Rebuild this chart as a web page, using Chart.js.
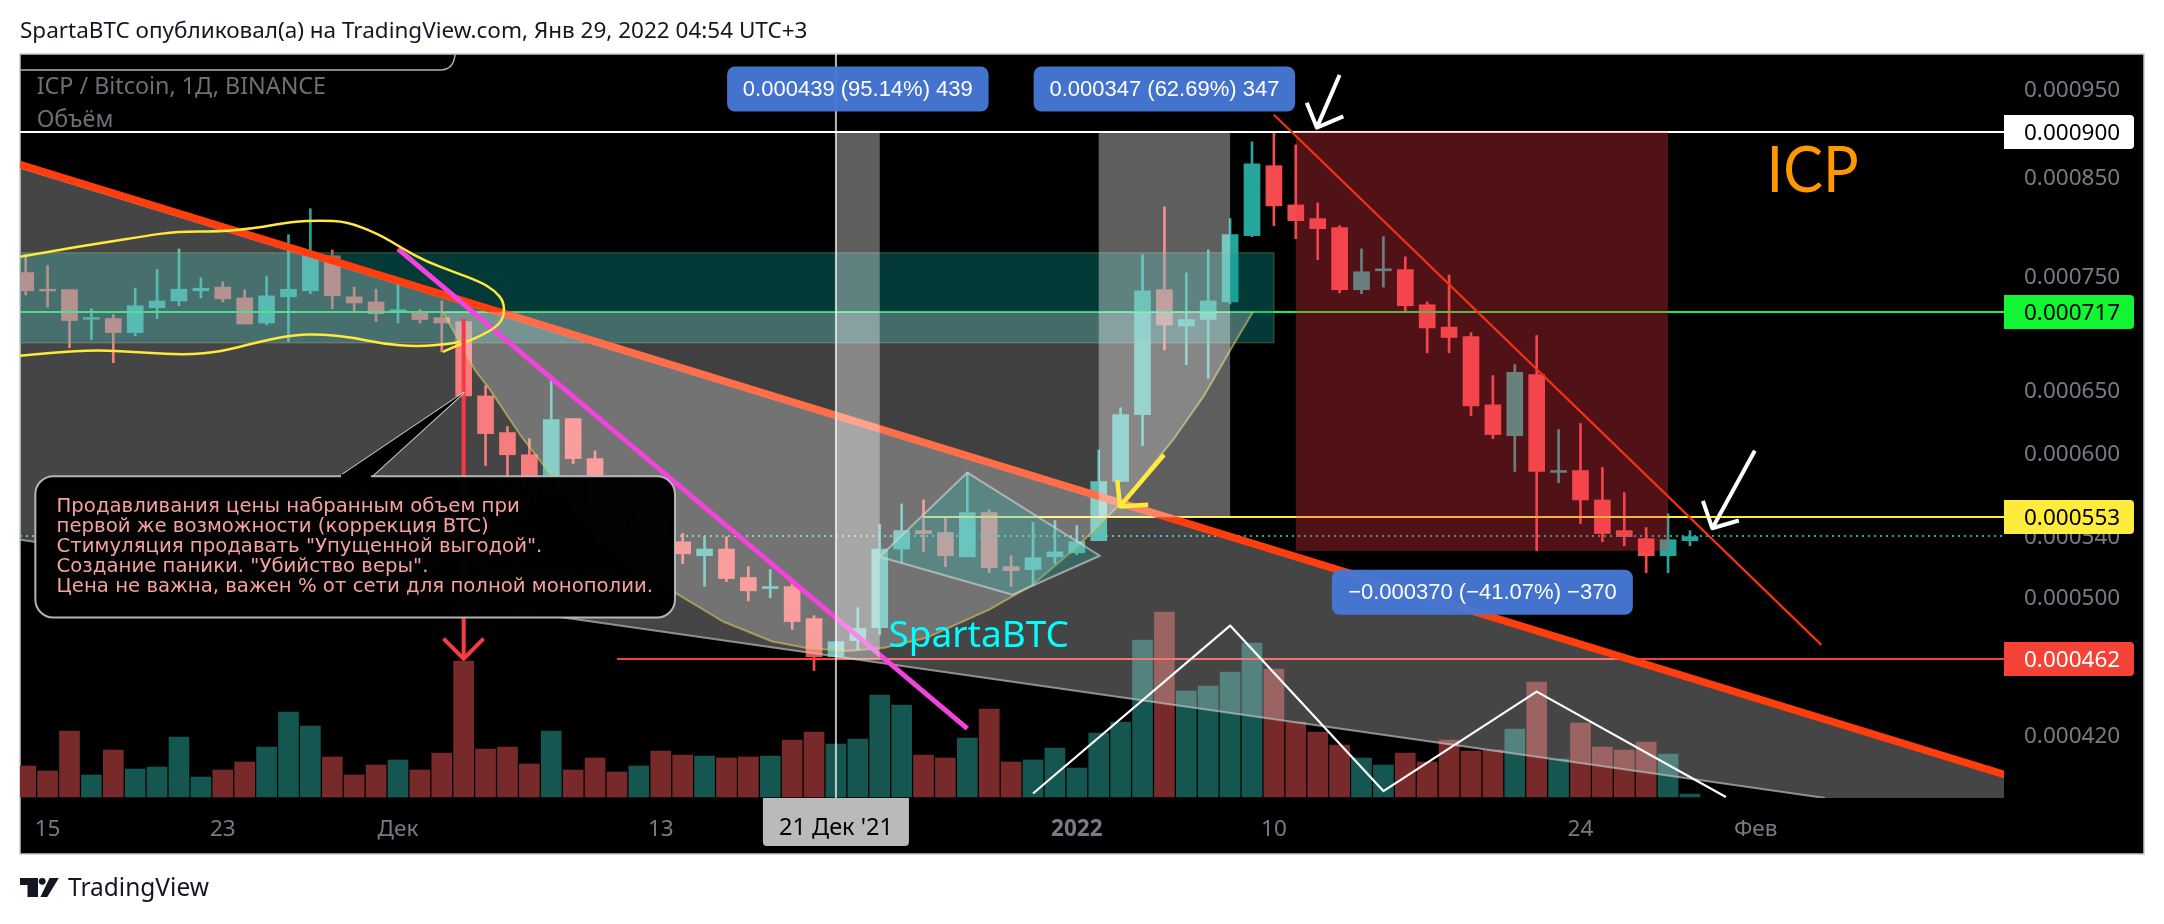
<!DOCTYPE html>
<html><head><meta charset="utf-8"><title>ICP / Bitcoin</title>
<style>html,body{margin:0;padding:0;background:#fff}canvas{display:block}</style>
<script src="https://cdn.jsdelivr.net/npm/chart.js@4/dist/chart.umd.min.js"></script>
</head><body><canvas id="c" width="2164" height="924"></canvas>
<script>
// Prices are in satoshi (0.000001 BTC). One candle per day, index 1 = 15 Nov 2021.
const candleOpen=[753.3,737.6,737.2,710.2,710.8,698.3,720.6,726.8,736.2,739.6,729.6,706.8,730.6,736.2,769.5,730.6,725.9,717.0,717.0,711.7,708.1,644.6,615.4,598.4,567.4,626.4,595.5,565.2,545.8,551.4,536.1,526.7,531.2,512.4,505.3,506.6,486.5,463.6,473.1,481.0,531.2,543.7,542.4,526.0,556.2,519.5,517.6,526.0,528.6,536.8,578.5,629.5,737.2,704.1,709.9,725.9,789.3,862.3,820.6,806.5,797.3,737.2,755.0,756.2,723.3,703.2,694.9,637.4,613.1,662.3,585.2,586.6,565.2,543.7,538.2,526.7,536.8];
const candleHigh=[771.1,760.0,737.2,719.7,714.4,738.6,756.2,776.2,748.3,744.5,737.2,750.0,790.3,816.6,775.2,739.6,737.6,742.6,718.8,726.8,710.8,653.0,620.1,610.7,657.2,626.4,601.4,566.6,556.9,558.3,541.7,539.8,539.6,519.5,517.6,509.8,488.3,472.5,493.2,548.0,562.4,565.2,553.6,585.1,558.3,526.7,549.3,550.7,547.2,602.1,635.0,770.4,818.6,753.0,775.2,806.5,888.7,899.0,885.2,822.7,799.4,776.2,788.3,768.5,725.9,751.1,698.3,661.4,670.6,695.7,617.8,622.5,588.8,570.4,545.8,555.5,543.7];
const candleLow=[732.4,721.2,685.0,692.1,672.3,695.6,710.8,722.4,729.6,725.9,705.9,705.0,690.3,733.4,719.7,717.9,708.1,706.8,706.8,681.5,640.0,590.3,581.4,561.7,565.2,591.8,554.8,544.4,540.3,532.0,521.5,506.6,509.8,497.5,499.4,479.8,455.6,463.6,467.6,476.7,522.1,529.3,519.5,526.0,515.6,506.6,507.2,521.5,527.3,536.8,578.5,605.2,683.2,670.6,658.9,724.1,788.3,799.4,786.3,765.7,734.3,733.4,739.6,717.9,680.7,680.7,628.8,610.7,585.9,530.0,577.7,548.6,536.1,533.4,515.6,515.6,533.4];
const candleClose=[736.2,736.0,709.0,711.7,698.3,722.4,726.8,737.6,738.6,728.7,705.9,731.5,737.6,772.4,731.5,725.0,715.2,718.8,709.9,706.8,644.6,614.6,598.4,572.6,625.6,595.5,561.7,547.9,551.4,537.5,528.0,531.2,511.7,503.9,506.6,484.7,463.6,472.5,480.4,531.2,543.7,541.7,526.7,556.2,518.9,516.9,525.4,529.3,536.1,578.5,629.5,736.2,705.0,709.9,726.8,790.3,864.4,819.6,804.4,796.3,737.2,754.1,756.9,722.4,702.4,694.0,636.6,613.9,664.0,585.9,586.6,565.2,541.7,539.6,526.7,537.5,539.6];
const volumeValues=[31,26,66,22,47,28,30,60,20,27,35,50,85,71,40,22,32,37,27,44,136,48,50,33,66,27,39,25,31,46,42,41,39,40,41,57,65,53,58,102,92,42,39,59,88,35,37,49,29,64,75,157,185,106,111,125,154,128,75,65,52,39,32,44,35,57,46,47,68,115,38,74,50,47,55,43,3];
const timeTickIndex=[1,9,17,29,48,57,71,79];
const timeTickLabels=['15','23','Дек','13','2022','10','24','Фев'];
const priceTicks=[950,850,750,650,600,540,500,420];
const levelValues=[900,717,553,462];
const levelFill=['#ffffff','#12f533','#ffeb3b','#f44336'];
const levelText=['#000000','#000000','#000000','#ffffff'];
const levelLine=['#ffffff','#1cf04a','#ffeb3b','#f44336'];
const levelStart=[-0.26,-0.26,41,27];
const priceMin=387.8, priceMax=993;
const xMin=-0.26, xMax=90.34;
const crossIndex=37, crossLabel="21 Дек '21";
const lastPrice=540;
// Drawings: [candle index, price in satoshi]
const wedge=[[-0.26,860.1],[90.34,398.4],[90.34,387.8],[82.16,387.8],[-0.26,537.5]];
const trendLine=[[-0.26,863.4],[90.34,399.5]];
const magentaLine=[[17,776.2],[43,423.3]];
const thinRedLine=[[57,919.7],[82,470.6]];
const tealBox=[[-0.26,772.35],[57,689.4]];
const rangeA=[[37,900],[39,462]];
const rangeB=[[49,900],[55,553]];
const rangeC=[[58,900],[75,530]];
const cup=[[19.05,717],[20.5,666.4],[21.2,649.7],[22.57,613.9],[23.35,596.9],[26.2,537.5],[28.05,517],[29.65,502.7],[31.84,484.7],[34.1,472.6],[35.67,468.8],[37.5,466.9],[39.14,468.8],[41.15,474.9],[44,492],[46,507.9],[48,532.5],[49.4,553.4],[50.3,567.3],[52.4,609.9],[53.77,643.8],[55.1,685.9],[56.05,717]];
const diamond=[[39,526],[43,585.1],[49.05,526.7],[45.07,501.4]];
const brushTop=[[-0.26,768.6],[1.25,774.2],[3.53,782.3],[5.54,789.3],[6.91,793.4],[8.87,793.4],[10.38,796.4],[12.2,803.5],[13.44,804.5],[14.67,803.5],[16.18,790.3],[17.23,776.2],[18.32,763.8],[19.51,754.2],[20.74,744.7],[21.43,736.2],[21.84,725.9],[21.84,712.5],[21.52,703.6],[20.74,694.9],[19.83,688],[19.05,681.5]];
const brushBottom=[[-0.26,678.2],[1.25,680.7],[3.26,683.2],[5.36,680.7],[7.37,679],[8.87,681.5],[10.7,690.3],[12.2,696.2],[13.44,697],[14.95,693.9],[16.32,688.4],[17.87,685.9],[19.38,688.4],[19.83,690.3]];
const zigzag=[[46,390],[55,482.2],[62,391.2],[69,443.6],[77.64,388.3]];
const redArrow=[[20,710.8],[20,462.4]], redArrowWings=[[19.08,474.3],[20,462.4],[20.91,474.3]];
const yellowArrow=[[51.98,598.4],[49.97,560.6]], yellowArrowWings=[[49.85,579.4],[49.97,560.6],[51.26,561.7]];
const whiteArrowA=[[60,967],[58.96,904.8]], whiteArrowAWings=[[58.5,933.8],[58.96,904.8],[60.17,917.7]];
const whiteArrowB=[[78.96,601.4],[77.02,545.3]], whiteArrowBWings=[[76.59,564.5],[77.02,545.3],[78.23,550.7]];
const measureLabels=[['0.000439 (95.14%) 439',38,950],['0.000347 (62.69%) 347',52,950],['−0.000370 (−41.07%) −370',66.52,502.9]];
const callout={from:[0.44,582.4],to:[29.65,487.1],tip:[20,647.2],tailA:[14.35,582.4],tailB:[15.81,582.4],textAt:[1.41,560.1]};
const calloutLines=['Продавливания цены набранным объем при','первой же возможности (коррекция BTC)','Стимуляция продавать "Упущенной выгодой".','Создание паники. "Убийство веры".','Цена не важна, важен % от сети для полной монополии.'];
const headerText='SpartaBTC опубликовал(а) на TradingView.com, Янв 29, 2022 04:54 UTC+3';
const legendLines=[['ICP / Bitcoin, 1Д, BINANCE',0.5,952.5],['Объём',0.5,912.8]];
const watermarks=[['SpartaBTC',39.4,469.4,'#00ffff','37px "Noto Sans"',1],['ICP',79.5,834.3,'#ff9800','64px Lato,"Noto Sans"',0.93]];

const UP='#26a69a', DOWN='#f44c4e', UPV='#155650', DOWNV='#782a2a';
const F='"Noto Sans",sans-serif', GREY='#787b86';
const isUp=i=>candleClose[i]>=candleOpen[i];
const idx=candleOpen.map((_,i)=>i);

const overlay={id:'overlay',
 beforeDraw(ch){const c=ch.ctx;c.save();c.fillStyle='#fff';c.fillRect(0,0,2164,924);
  c.fillStyle='#000';c.fillRect(20,54,2124,800);c.strokeStyle='#c4c6cc';c.lineWidth=1.5;c.strokeRect(20,54,2124,800);c.restore();},
 afterDraw(ch){
  const c=ch.ctx,X=ch.scales.x,Y=ch.scales.y,A=ch.chartArea;
  const px=p=>[X.getPixelForValue(p[0]),Y.getPixelForValue(p[1])];
  const path=(pts,close)=>{c.beginPath();pts.forEach((p,i)=>{const q=px(p);i?c.lineTo(q[0],q[1]):c.moveTo(q[0],q[1]);});if(close)c.closePath();};
  const stroke=(pts,col,w,cap)=>{path(pts);c.strokeStyle=col;c.lineWidth=w;c.lineCap=cap||'butt';c.lineJoin='round';c.stroke();};
  const smooth=(pts,col,w)=>{const q=pts.map(px);c.beginPath();c.moveTo(q[0][0],q[0][1]);
    for(let i=1;i<q.length-1;i++){c.quadraticCurveTo(q[i][0],q[i][1],(q[i][0]+q[i+1][0])/2,(q[i][1]+q[i+1][1])/2);}
    const e=q[q.length-1];c.lineTo(e[0],e[1]);c.strokeStyle=col;c.lineWidth=w;c.lineJoin='round';c.stroke();};
  const hline=(x0,v,col,w)=>{const y=Math.round(Y.getPixelForValue(v));const a=X.getPixelForValue(x0);c.fillStyle=col;c.fillRect(a,y-w/2,A.right-a,w);};
  const fillPoly=(pts,col)=>{path(pts,true);c.fillStyle=col;c.fill();};
  const rect=(r,col)=>{const a=px(r[0]),b=px(r[1]);c.fillStyle=col;c.fillRect(a[0],a[1],b[0]-a[0],b[1]-a[1]);};
  c.save();c.beginPath();c.rect(A.left,A.top,A.right-A.left,A.bottom-A.top);c.clip();
  // levels and last price
  c.setLineDash([2,4]);stroke([[xMin,lastPrice],[xMax,lastPrice]],'#26a69a',2);c.setLineDash([]);
  levelValues.forEach((v,i)=>hline(levelStart[i],v,levelLine[i],2));
  // teal zone
  rect(tealBox,'rgba(8,153,147,.38)');
  {const a=px(tealBox[0]),b=px(tealBox[1]);c.strokeStyle='rgba(120,150,100,.35)';c.lineWidth=1.5;c.strokeRect(a[0],a[1],b[0]-a[0],b[1]-a[1]);}
  // falling wedge
  fillPoly(wedge,'rgba(255,255,255,.27)');
  stroke([wedge[0],wedge[1]],'rgba(190,190,190,.7)',2);
  stroke([wedge[4],wedge[3]],'rgba(190,190,190,.7)',2);
  stroke(trendLine,'#ff3d0d',7.5);
  // cup
  fillPoly(cup,'rgba(255,255,255,.25)');
  stroke(cup,'rgba(214,196,90,.6)',2);
  stroke(magentaLine,'#f442dc',5);
  // diamond
  fillPoly(diamond,'rgba(35,175,170,.3)');
  path(diamond,true);c.strokeStyle='rgba(215,215,215,.62)';c.lineWidth=2;c.stroke();
  // ranges
  rect(rangeA,'rgba(255,255,255,.37)');
  rect(rangeB,'rgba(255,255,255,.37)');
  rect(rangeC,'rgba(242,54,69,.33)');
  // brush
  smooth(brushTop,'#ffe93b',2.5);
  smooth(brushBottom,'#ffe93b',2.5);
  stroke(redArrow,'#f73a44',4);stroke(redArrowWings,'#f73a44',4);
  // callout
  stroke([callout.tailA,callout.tip,callout.tailB],'rgba(215,215,215,.9)',2);
  fillPoly([callout.tailA,callout.tip,callout.tailB],'#000');
  {const a=px(callout.from),b=px(callout.to);
   c.beginPath();c.roundRect(a[0],a[1],b[0]-a[0],b[1]-a[1],18);c.fillStyle='rgba(0,0,0,.985)';c.fill();
   c.strokeStyle='rgba(190,190,190,.95)';c.lineWidth=2;c.stroke();
   const t=px(callout.tailA),u=px(callout.tailB);c.fillStyle='#000';c.fillRect(t[0]+1,t[1]-2,u[0]-t[0]-2,4);
   const q=px(callout.textAt);c.fillStyle='#f5a29e';c.font='19.7px "DejaVu Sans"';c.textAlign='left';c.textBaseline='middle';
   calloutLines.forEach((s,i)=>c.fillText(s,q[0],q[1]+i*20));}
  // tops
  stroke(zigzag,'#ffffff',2.2);
  stroke(thinRedLine,'#f4320f',2.2);
  stroke(yellowArrow,'#ffeb3b',4.5);stroke(yellowArrowWings,'#ffeb3b',4.5);
  stroke(whiteArrowA,'#ffffff',4);stroke(whiteArrowAWings,'#ffffff',4);
  stroke(whiteArrowB,'#ffffff',4);stroke(whiteArrowBWings,'#ffffff',4);
  stroke([[crossIndex,priceMax],[crossIndex,priceMin]],'rgba(255,255,255,.72)',2);
  // watermarks
  watermarks.forEach(w=>{const q=px([w[1],w[2]]);c.save();c.translate(q[0],q[1]);c.scale(w[5],1);c.font=w[4];c.fillStyle=w[3];c.textAlign='left';c.textBaseline='alphabetic';c.fillText(w[0],0,0);c.restore();});
  // legend
  c.font='23.3px '+F;c.fillStyle='#6e6f76';c.textBaseline='middle';
  legendLines.forEach(l=>{const q=px([l[1],l[2]]);c.fillText(l[0],q[0],q[1]);});
  // measure labels
  measureLabels.forEach(m=>{const q=px([m[1],m[2]]);const w=m[0].startsWith('−')?301:261.5;
    c.beginPath();c.roundRect(q[0]-w/2,q[1]-22.5,w,45,8);c.fillStyle='rgba(70,120,212,.96)';c.fill();
    c.font='22px "Liberation Sans"';c.fillStyle='#fff';c.textAlign='center';c.textBaseline='middle';c.fillText(m[0],q[0],q[1]+1);});
  c.restore();
  // top-left tab
  c.strokeStyle='#b0b0b0';c.lineWidth=1.5;c.beginPath();c.moveTo(20,70);c.lineTo(440,70);c.quadraticCurveTo(454,70,455,54);c.stroke();
  // price tags
  levelValues.forEach((v,i)=>{const y=Math.round(Y.getPixelForValue(v));c.beginPath();c.roundRect(A.right,y-17,130,34,[0,4,4,0]);c.fillStyle=levelFill[i];c.fill();
    c.font='22.5px '+F;c.fillStyle=levelText[i];c.textAlign='left';c.textBaseline='middle';c.fillText((v/1e6).toFixed(6),A.right+20,y+2);});
  // crosshair time label
  {const x=X.getPixelForValue(crossIndex);c.beginPath();c.roundRect(x-73,A.bottom,146,48,[0,0,4,4]);c.fillStyle='#bababa';c.fill();
   c.font='23.5px '+F;c.fillStyle='#000';c.textAlign='center';c.textBaseline='middle';c.fillText(crossLabel,x,A.bottom+30);}
  // header and footer
  c.fillStyle='#131722';c.textAlign='left';c.textBaseline='middle';
  c.font='22.5px '+F;c.fillText(headerText,20,32);
  c.font='24.5px '+F;c.fillText('TradingView',68,889);
  c.beginPath();c.moveTo(20,878);c.lineTo(38,878);c.lineTo(38,897);c.lineTo(27.5,897);c.lineTo(27.5,885);c.lineTo(20,885);c.closePath();c.fill();
  c.beginPath();c.arc(42.2,881.3,3.4,0,7);c.fill();
  c.beginPath();c.moveTo(49.6,878);c.lineTo(58.8,878);c.lineTo(47.3,897);c.lineTo(40.4,897);c.closePath();c.fill();
 }};

new Chart(document.getElementById('c'),{
 type:'bar',
 data:{datasets:[
  {label:'Объём',yAxisID:'v',grouped:false,order:3,barThickness:20,
   data:idx.map(i=>({x:i,y:volumeValues[i]})),backgroundColor:idx.map(i=>isUp(i)?UPV:DOWNV)},
  {label:'Тени',grouped:false,order:2,barThickness:2,
   data:idx.map(i=>({x:i,y:[candleLow[i],candleHigh[i]]})),backgroundColor:idx.map(i=>isUp(i)?UP:DOWN)},
  {label:'ICP / Bitcoin',grouped:false,order:1,barThickness:16,
   data:idx.map(i=>({x:i,y:[candleOpen[i],candleClose[i]]})),backgroundColor:idx.map(i=>isUp(i)?UP:DOWN)}
 ]},
 plugins:[overlay],
 options:{responsive:false,animation:false,devicePixelRatio:1,
  layout:{padding:{left:20,right:20,top:54,bottom:70}},
  plugins:{legend:{display:false},tooltip:{enabled:false},title:{display:false}},
  scales:{
   x:{type:'linear',min:xMin,max:xMax,offset:false,bounds:'data',
      grid:{display:false,drawTicks:false},border:{display:false},
      afterBuildTicks(s){s.ticks=timeTickIndex.map(v=>({value:v}));},
      afterFit(s){s.height=56;},
      ticks:{autoSkip:false,maxRotation:0,minRotation:0,padding:18,color:GREY,
        font:ctx=>({family:F,size:22.5,weight:timeTickLabels[timeTickIndex.indexOf(ctx.tick&&ctx.tick.value)]==='2022'?'bold':'normal'}),
        callback:v=>timeTickLabels[timeTickIndex.indexOf(v)]}},
   y:{type:'logarithmic',position:'right',min:priceMin,max:priceMax,bounds:'data',
      grid:{display:false,drawTicks:false},border:{display:false},
      afterBuildTicks(s){s.ticks=priceTicks.map(v=>({value:v}));},
      afterFit(s){s.width=140;},
      ticks:{autoSkip:false,padding:20,labelOffset:2,color:GREY,font:{family:F,size:22.5},
        callback:v=>(v/1e6).toFixed(6)}},
   v:{type:'linear',display:false,min:-1,max:743}
  }}
});
</script></body></html>
